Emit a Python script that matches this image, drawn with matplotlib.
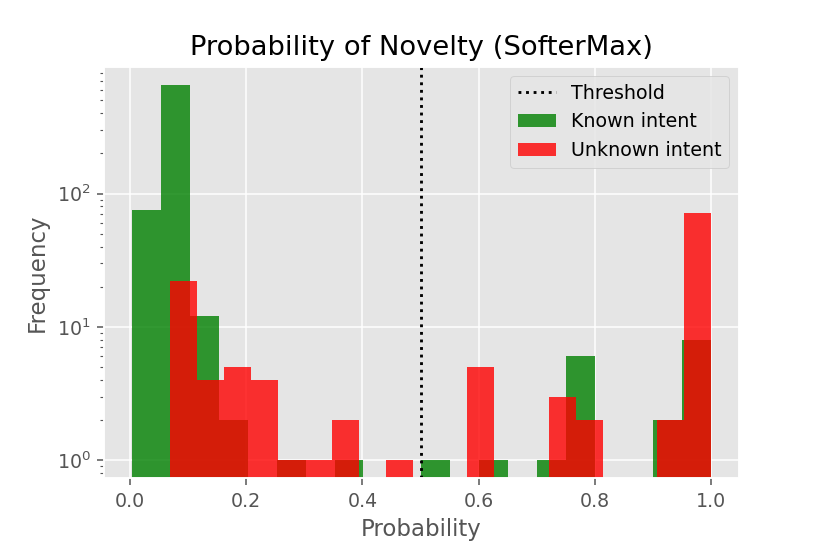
import numpy as np
import matplotlib
matplotlib.use("Agg")
from matplotlib import pyplot as plt

plt.style.use("ggplot")

# histogram counts (20 bins each, own range per class)
known_range = (0.003, 1.0)
known_counts = [75, 650, 12, 2, 0, 1, 0, 1, 0, 0,
                1, 0, 1, 0, 1, 6, 0, 0, 2, 8]
unknown_range = (0.068, 1.0)
unknown_counts = [22, 4, 5, 4, 1, 1, 2, 0, 1, 0,
                  0, 5, 0, 0, 3, 2, 0, 0, 2, 71]
threshold = 0.5

known_edges = np.linspace(known_range[0], known_range[1], len(known_counts) + 1)
unknown_edges = np.linspace(unknown_range[0], unknown_range[1], len(unknown_counts) + 1)

fig = plt.figure(figsize=(6, 4), dpi=137)
ax = fig.add_axes([0.1265, 0.127, 0.772, 0.751])

ax.axvline(threshold, color="k", linestyle=":", label="Threshold")
ax.hist(known_edges[:-1], bins=known_edges, weights=known_counts,
        color="green", alpha=0.8, log=True, label="Known intent")
ax.hist(unknown_edges[:-1], bins=unknown_edges, weights=unknown_counts,
        color="red", alpha=0.8, log=True, label="Unknown intent")

ax.set_xlim(-0.0448, 1.0474)
ax.set_ylim(10 ** -0.137, 10 ** 2.95)
ax.set_title("Probability of Novelty (SofterMax)")
ax.set_xlabel("Probability")
ax.set_ylabel("Frequency")
ax.legend(loc="upper right", facecolor="#E5E5E5")

fig.savefig("out.png", dpi=137)
